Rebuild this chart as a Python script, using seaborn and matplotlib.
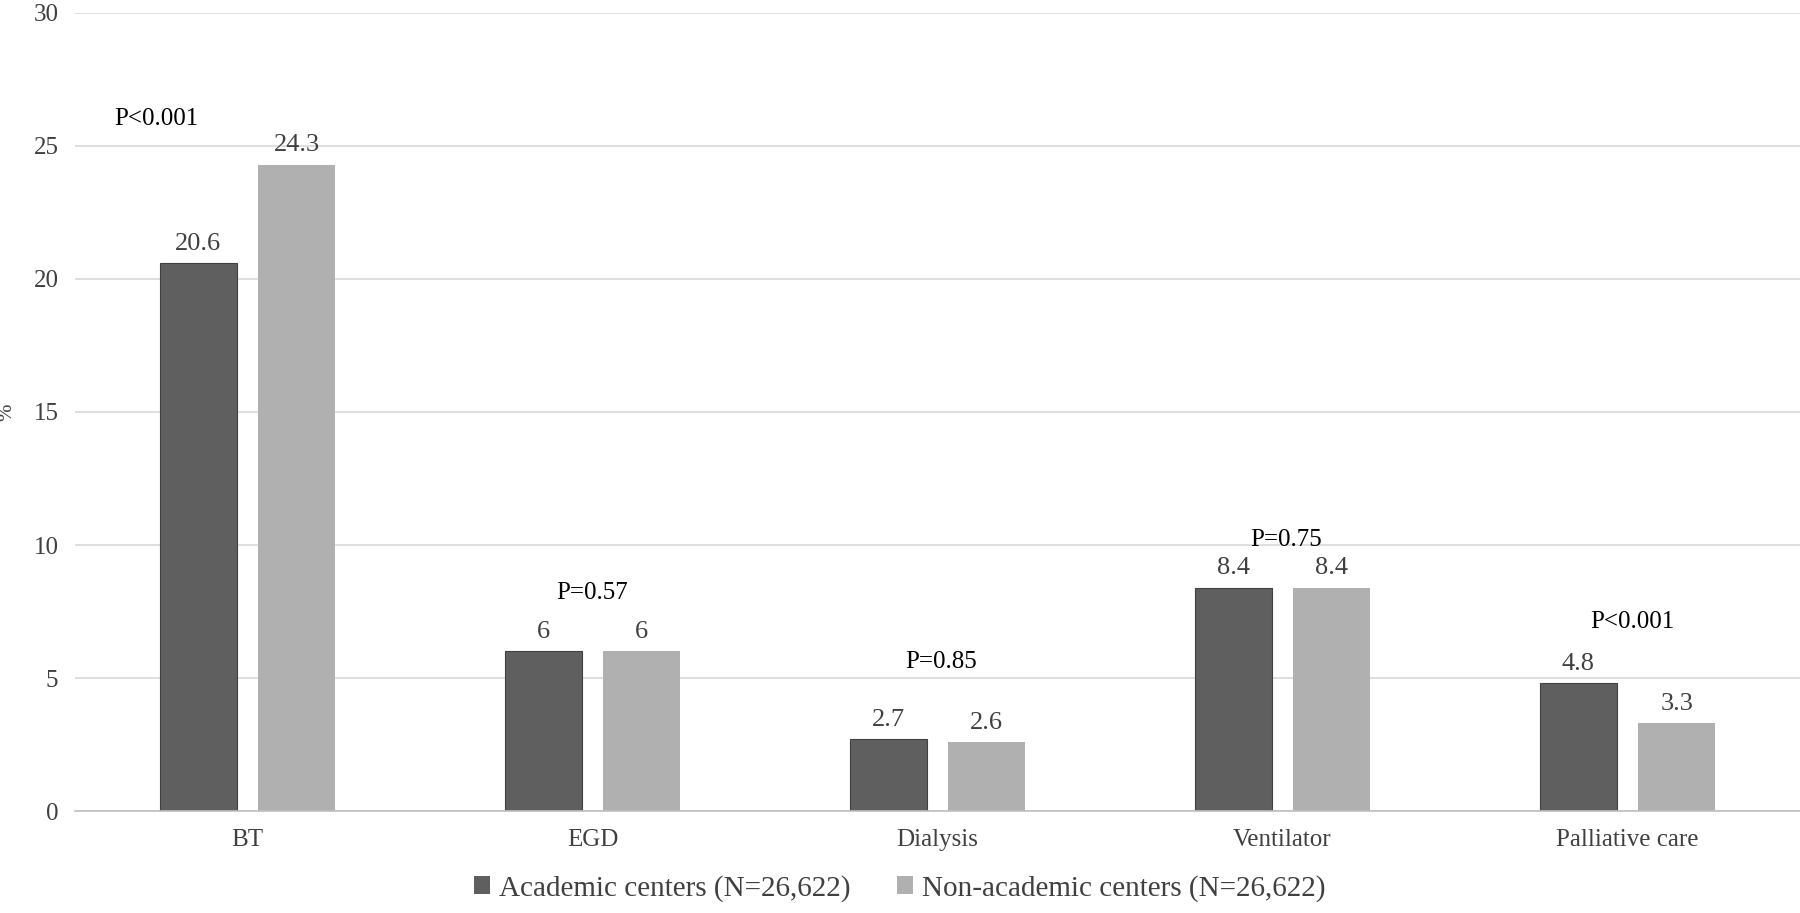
import matplotlib
matplotlib.use("Agg")
import matplotlib.pyplot as plt
import seaborn as sns
import pandas as pd

# values
procedures = ["BT", "EGD", "Dialysis", "Ventilator", "Palliative care"]
academic = [20.6, 6, 2.7, 8.4, 4.8]
non_academic = [24.3, 6, 2.6, 8.4, 3.3]
groups = ["Academic centers (N=26,622)", "Non-academic centers (N=26,622)"]

# p-value annotations (category offset, y value)
p_labels = ["P<0.001", "P=0.57", "P=0.85", "P=0.75", "P<0.001"]
p_dx = [-0.265, 0.0, 0.01, 0.01, 0.013]
p_y = [26.0, 8.2, 5.6, 10.2, 7.1]

df = pd.DataFrame({
    "procedure": procedures * 2,
    "pct": academic + non_academic,
    "group": [groups[0]] * len(procedures) + [groups[1]] * len(procedures),
})

sns.set_style("white")
plt.rcParams["font.family"] = ["Liberation Serif", "DejaVu Serif"]

fig = plt.figure(figsize=(18, 9.13), dpi=100)
ax = fig.add_axes([0.0417, 0.1117, 0.9583, 0.8741])

sns.barplot(data=df, x="procedure", y="pct", hue="group", order=procedures,
            hue_order=groups, palette=["#5f5f5f", "#b0b0b0"],
            width=0.57, gap=0.22, ax=ax, linewidth=0, saturation=1)

# dark bars have a thin darker outline
for bar in ax.containers[0]:
    bar.set_edgecolor("#404040")
    bar.set_linewidth(0.8)

for cont in ax.containers:
    ax.bar_label(cont, fmt="%g", padding=6, fontsize=19, color="#404040")

for i, (lab, dx, y) in enumerate(zip(p_labels, p_dx, p_y)):
    ax.text(i + dx, y, lab, ha="center", va="center", fontsize=18, color="black")

ax.set_ylim(0, 30)
ax.set_xlim(-0.5, len(procedures) - 0.5)
ax.set_yticks(range(0, 31, 5))
ax.yaxis.grid(True, color="#d9d9d9", linewidth=1.2)
ax.set_axisbelow(True)
for s in ["top", "right", "left"]:
    ax.spines[s].set_visible(False)
ax.spines["bottom"].set_color("#bfbfbf")
ax.spines["bottom"].set_linewidth(1.2)
ax.tick_params(axis="both", length=0, labelsize=18, labelcolor="#404040")
ax.tick_params(axis="x", pad=13)
ax.tick_params(axis="y", pad=12)
ax.set_xlabel("")
ax.set_ylabel("%", fontsize=15, color="#404040", labelpad=12)

handles, labels = ax.get_legend_handles_labels()
ax.get_legend().remove()
fig.legend(handles, labels, loc="center", bbox_to_anchor=(0.5, 0.027), ncol=2,
           frameon=False, fontsize=21, handlelength=0.55, handleheight=0.55,
           handletextpad=0.3, columnspacing=1.6, labelcolor="#404040")

fig.savefig("out.png", dpi=100)
